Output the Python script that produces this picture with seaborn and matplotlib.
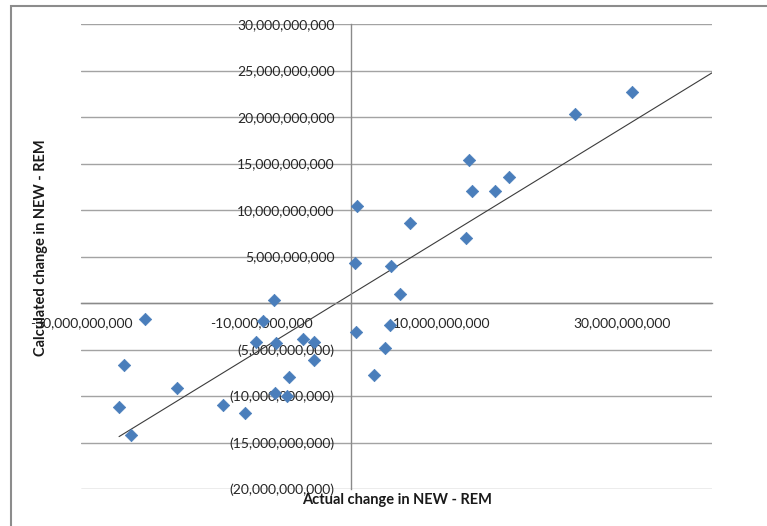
import numpy as np
import pandas as pd
import matplotlib
matplotlib.use('Agg')
import matplotlib.pyplot as plt
import matplotlib.ticker as mticker
from matplotlib.patches import Rectangle
import seaborn as sns

# values, in billions
actual = [31.11, 24.78, 13.0, 13.33, 15.94, 17.5, 12.67, 6.5, 0.59, 0.37, 4.39,
          5.39, 4.28, 0.5, 3.72, 2.5, -8.63, -9.86, -22.89, -25.22, -25.78,
          -24.48, -19.3, -14.3, -11.86, -10.59, -8.37, -5.41, -4.11, -4.19,
          -6.89, -8.44, -7.19]
calculated = [22.69, 20.27, 15.38, 12.04, 12.04, 13.55, 7.04, 8.6, 10.43, 4.3,
              4.03, 0.97, -2.37, -3.15, -4.89, -7.69, 0.32, -1.94, -1.75, -6.7,
              -11.15, -14.19, -9.17, -11.0, -11.83, -4.16, -4.27, -3.87, -4.16,
              -6.13, -7.99, -9.71, -10.0]
x_ticks = [-30e9, -10e9, 10e9, 30e9]
y_ticks = np.arange(-20e9, 30e9 + 1, 5e9)

df = pd.DataFrame({'actual': np.array(actual) * 1e9,
                   'calculated': np.array(calculated) * 1e9})

sns.set_style('white')
plt.rcParams['font.family'] = ['Lato', 'DejaVu Sans']

fig = plt.figure(figsize=(7.67, 5.26), dpi=100)
ax = fig.add_axes([81 / 767, 1 - 489 / 526, (712 - 81) / 767, (489 - 24) / 526])

# grid first so the points sit on top
for yv in y_ticks:
    ax.axhline(yv, color='#a3a3a3', lw=1.0, zorder=0)

# linear trendline, run forward to the axis end
slope, inter = np.polyfit(df['actual'], df['calculated'], 1)
xs = np.array([df['actual'].min(), 40e9])
sns.lineplot(x=xs, y=slope * xs + inter, ax=ax, color='#3c3c3c', lw=0.8, zorder=2)

sns.scatterplot(data=df, x='actual', y='calculated', ax=ax, marker='D', s=40,
                color='#4a7ebb', edgecolor='#4a7ebb', linewidth=0.5, zorder=3)

ax.set_xlim(-30e9, 40e9)
ax.set_ylim(-20e9, 30e9)

for s in ['top', 'right']:
    ax.spines[s].set_visible(False)
ax.spines['left'].set_position(('data', 0))
ax.spines['bottom'].set_position(('data', 0))
for s in ['left', 'bottom']:
    ax.spines[s].set_color('#8a8a8a')
    ax.spines[s].set_linewidth(1.0)

ax.set_xticks(x_ticks)
ax.set_yticks(y_ticks)
ax.xaxis.set_major_formatter(mticker.FuncFormatter(lambda v, p: f'{v:,.0f}'))


def yfmt(v, p):
    if abs(v) < 1:
        return ''
    if v < 0:
        return f'({-v:,.0f})'
    return f'{v:,.0f}'


ax.yaxis.set_major_formatter(mticker.FuncFormatter(yfmt))
ax.tick_params(axis='x', direction='out', length=4, width=1, color='#8a8a8a',
               pad=6, labelsize=10, labelcolor='#262626')
ax.tick_params(axis='y', length=0, pad=12, labelsize=10, labelcolor='#262626')
ax.set_xlabel('')
ax.set_ylabel('')

fig.text(397 / 767, 1 - 500 / 526, 'Actual change in NEW - REM', ha='center',
         va='center', fontsize=10.5, fontweight='bold', color='#1a1a1a')
fig.text(41 / 767, 1 - 248 / 526, 'Calculated change in NEW - REM', ha='center',
         va='center', rotation=90, fontsize=10.5, fontweight='bold', color='#1a1a1a')

# chart area frame (cropped at right and bottom)
fig.patches.append(Rectangle((11 / 767, -0.1), 1.2, 1.1 - 6 / 526,
                             transform=fig.transFigure, fill=False,
                             edgecolor='#8c8c8c', lw=1.5))

fig.savefig('out.png', dpi=100)
